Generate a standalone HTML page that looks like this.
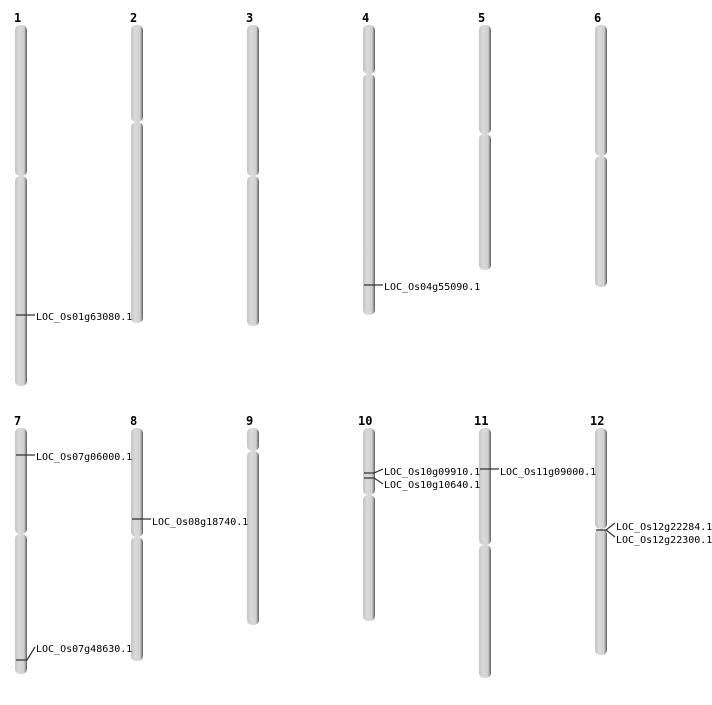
<!DOCTYPE html>
<html><head><meta charset="utf-8"><style>
body{margin:0;background:#fff;width:712px;height:700px;overflow:hidden}
text{font-family:"DejaVu Sans Mono","Liberation Mono",monospace;font-size:10px;fill:#000}
.t{font-weight:bold;font-size:12px}
</style></head><body>
<svg width="712" height="700" xmlns="http://www.w3.org/2000/svg">
<defs>
<linearGradient id="g" x1="0" x2="1" y1="0" y2="0">
<stop offset="0" stop-color="#c4c4c4"/><stop offset="0.35" stop-color="#dadada"/><stop offset="0.75" stop-color="#d0d0d0"/><stop offset="0.88" stop-color="#9a9a9a"/><stop offset="1" stop-color="#555"/>
</linearGradient>
</defs>
<g fill="url(#g)">
<rect x="15" y="25" width="12" height="151" rx="5"/><rect x="15" y="176" width="12" height="210" rx="5"/>
<rect x="131" y="25" width="12" height="97" rx="5"/><rect x="131" y="122" width="12" height="201" rx="5"/>
<rect x="247" y="25" width="12" height="151" rx="5"/><rect x="247" y="176" width="12" height="150" rx="5"/>
<rect x="363" y="25" width="12" height="49" rx="5"/><rect x="363" y="74" width="12" height="241" rx="5"/>
<rect x="479" y="25" width="12" height="109" rx="5"/><rect x="479" y="134" width="12" height="136" rx="5"/>
<rect x="595" y="25" width="12" height="131" rx="5"/><rect x="595" y="156" width="12" height="131" rx="5"/>
<rect x="15" y="428" width="12" height="106" rx="5"/><rect x="15" y="534" width="12" height="140" rx="5"/>
<rect x="131" y="428" width="12" height="109" rx="5"/><rect x="131" y="537" width="12" height="124" rx="5"/>
<rect x="247" y="428" width="12" height="23" rx="5"/><rect x="247" y="451" width="12" height="174" rx="5"/>
<rect x="363" y="428" width="12" height="67" rx="5"/><rect x="363" y="495" width="12" height="126" rx="5"/>
<rect x="479" y="428" width="12" height="117" rx="5"/><rect x="479" y="545" width="12" height="133" rx="5"/>
<rect x="595" y="428" width="12" height="101" rx="5"/><rect x="595" y="529" width="12" height="126" rx="5"/>
</g>
<text class="t" x="14" y="22">1</text><text class="t" x="130" y="22">2</text><text class="t" x="246" y="22">3</text>
<text class="t" x="362" y="22">4</text><text class="t" x="478" y="22">5</text><text class="t" x="594" y="22">6</text>
<text class="t" x="14" y="425">7</text><text class="t" x="130" y="425">8</text><text class="t" x="246" y="425">9</text>
<text class="t" x="358" y="425">10</text><text class="t" x="474" y="425">11</text><text class="t" x="590" y="425">12</text>
<g stroke="#333" stroke-width="1.2" fill="none">
<path d="M16 315H35"/><path d="M364 285H383"/><path d="M16 455H35"/>
<path d="M16 660H27L35 647"/><path d="M132 519H151"/>
<path d="M364 473H374L383 469"/><path d="M364 478H374L383 484"/>
<path d="M480 469H499"/>
<path d="M596 530H606L615 523"/><path d="M606 530L615 537"/>
</g>
<text x="36" y="320">LOC_Os01g63080.1</text>
<text x="384" y="290">LOC_Os04g55090.1</text>
<text x="36" y="460">LOC_Os07g06000.1</text>
<text x="36" y="652">LOC_Os07g48630.1</text>
<text x="152" y="525">LOC_Os08g18740.1</text>
<text x="384" y="475">LOC_Os10g09910.1</text>
<text x="384" y="488">LOC_Os10g10640.1</text>
<text x="500" y="475">LOC_Os11g09000.1</text>
<text x="616" y="530">LOC_Os12g22284.1</text>
<text x="616" y="543">LOC_Os12g22300.1</text>
</svg>
</body></html>
